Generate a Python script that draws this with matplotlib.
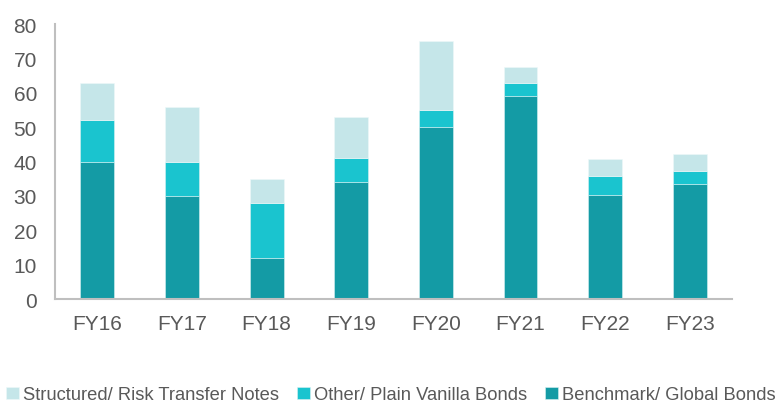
import matplotlib.pyplot as plt
import numpy as np

plt.rcParams['font.family'] = ['Liberation Sans', 'DejaVu Sans']

years = ['FY16', 'FY17', 'FY18', 'FY19', 'FY20', 'FY21', 'FY22', 'FY23']
benchmark = [40, 30, 12, 34, 50, 59.1, 30.3, 33.6]
other = [12, 10, 16, 7, 5, 3.8, 5.5, 3.7]
structured = [11, 16, 7, 12, 20, 4.5, 4.9, 5.0]

c_bench = '#149BA5'
c_other = '#1AC4CF'
c_struct = '#C5E6E9'
grey = '#595959'

fig = plt.figure(figsize=(7.82, 4.06), dpi=100)
ax = fig.add_axes([0.0703, 0.261, 0.866, 0.677])

x = np.arange(len(years))
w = 0.4
b1 = ax.bar(x, benchmark, w, color=c_bench, edgecolor='#d8f0f2', linewidth=0.4,
            label='Benchmark/ Global Bonds')
b2 = ax.bar(x, other, w, bottom=benchmark, color=c_other, edgecolor='#d8f0f2',
            linewidth=0.4, label='Other/ Plain Vanilla Bonds')
base = np.array(benchmark) + np.array(other)
b3 = ax.bar(x, structured, w, bottom=base, color=c_struct, edgecolor='#eef8f9',
            linewidth=0.4, label='Structured/ Risk Transfer Notes')

ax.set_xlim(-0.5, 7.5)
ax.set_ylim(0, 80)
ax.set_yticks(range(0, 81, 10))
ax.set_xticks(x)
ax.set_xticklabels(years)
ax.tick_params(axis='both', length=0, labelsize=15, colors=grey)
ax.tick_params(axis='x', pad=11)
ax.tick_params(axis='y', pad=13)
for s in ['top', 'right']:
    ax.spines[s].set_visible(False)
for s in ['left', 'bottom']:
    ax.spines[s].set_color('#BFBFBF')
    ax.spines[s].set_linewidth(1.5)

fig.legend(handles=[b3, b2, b1], loc='center', bbox_to_anchor=(0.5, 0.025), ncol=3,
           frameon=False, fontsize=13.2, labelcolor=grey, handlelength=0.7,
           handleheight=0.7, handletextpad=0.25, columnspacing=0.95)

fig.savefig('out.png', dpi=100)
